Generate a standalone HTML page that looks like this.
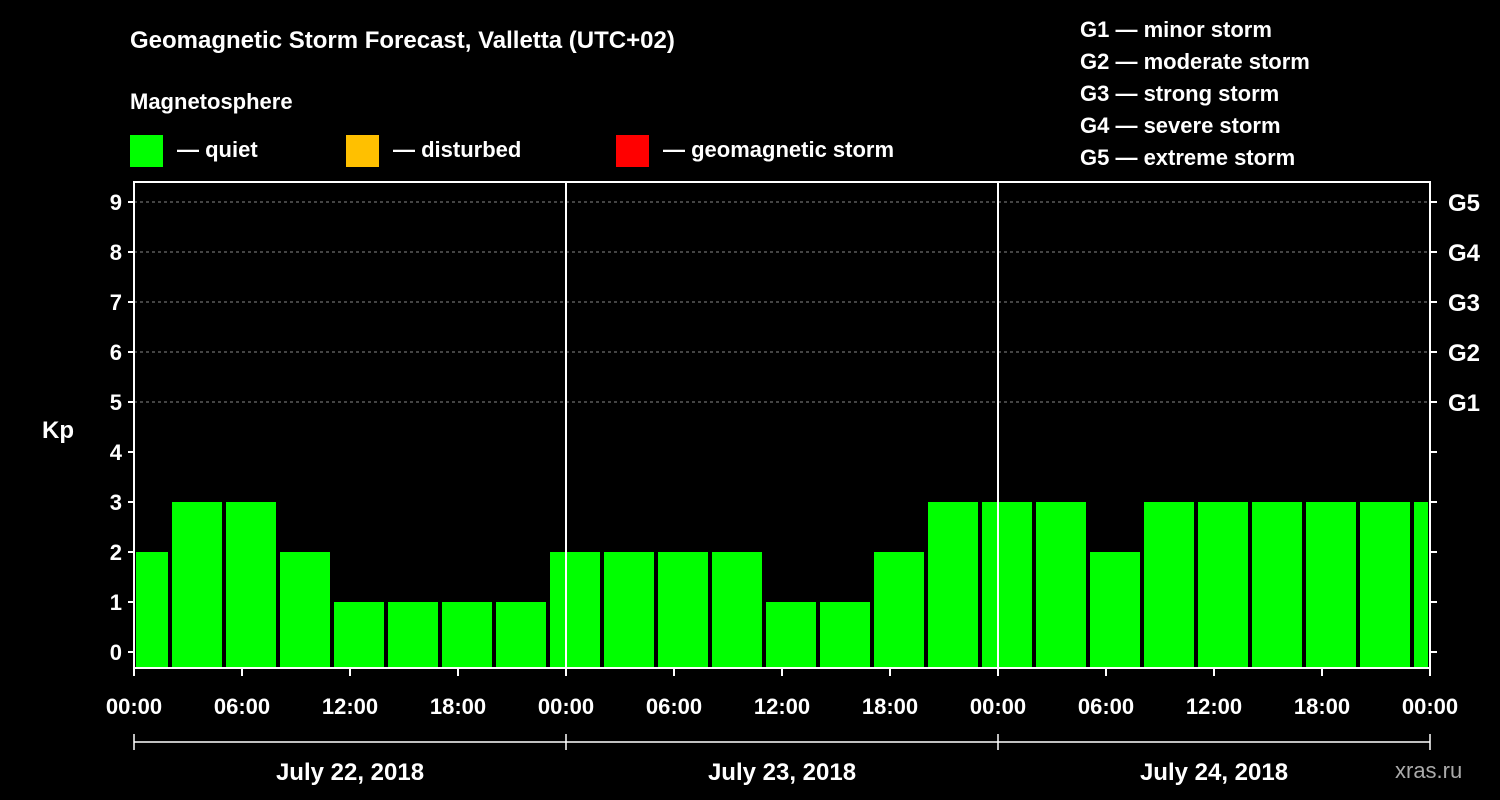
<!DOCTYPE html>
<html><head><meta charset="utf-8"><style>
body{margin:0;background:#000;width:1500px;height:800px;overflow:hidden}
svg{display:block}
text{font-family:"Liberation Sans",sans-serif;font-weight:bold;fill:#fff}
</style></head><body>
<svg id="c" width="1500" height="800">
<text x="130" y="48" font-size="24">Geomagnetic Storm Forecast, Valletta (UTC+02)</text>
<text x="130" y="109" font-size="22">Magnetosphere</text>
<g><rect x="130" y="135" width="33" height="32" fill="#00ff00"/><text x="177" y="157" font-size="22">— quiet</text></g>
<g><rect x="346" y="135" width="33" height="32" fill="#ffc000"/><text x="393" y="157" font-size="22">— disturbed</text></g>
<g><rect x="616" y="135" width="33" height="32" fill="#ff0000"/><text x="663" y="157" font-size="22">— geomagnetic storm</text></g>
<g font-size="22">
<text x="1080" y="37">G1 — minor storm</text><text x="1080" y="69">G2 — moderate storm</text><text x="1080" y="101">G3 — strong storm</text><text x="1080" y="133">G4 — severe storm</text><text x="1080" y="165">G5 — extreme storm</text></g>
<text x="42" y="438" font-size="24">Kp</text>
<text x="1395" y="778" font-size="22" fill="#aaa" style="fill:#aaa;font-weight:normal">xras.ru</text>
<g id="plot"></g>
</svg>
<script>
const values=[2,3,3,2,1,1,1,1,2,2,2,2,1,1,2,3,3,3,2,3,3,3,3,3,3];
const yTicks=[0,1,2,3,4,5,6,7,8,9];
const gLabels=["G1","G2","G3","G4","G5"];
const gLevels=[5,6,7,8,9];
const xLabels=["00:00","06:00","12:00","18:00","00:00","06:00","12:00","18:00","00:00","06:00","12:00","18:00","00:00"];
const days=["July 22, 2018","July 23, 2018","July 24, 2018"];
const NS="http://www.w3.org/2000/svg";
const L=134,R=1430,T=182,B=668;
const hours=72;
const x=h=>L+(R-L)*h/hours;
const y=v=>652-50*v;
const g=document.getElementById('plot');
function mk(t,a,p){const e=document.createElementNS(NS,t);for(const k in a)e.setAttribute(k,a[k]);(p||g).appendChild(e);return e;}
// grid
gLevels.forEach(v=>{const e=mk('line',{x1:L,x2:R,y1:y(v),y2:y(v),stroke:'#888','stroke-dasharray':'3,3','stroke-width':1});

});
// bars
values.forEach((v,i)=>{const h0=-1+3*i,h1=h0+3;
let x0=Math.max(x(h0),L)+2,x1=Math.min(x(h1),R)-2;
const c=v>=5?'#ff0000':v>=4?'#ffc000':'#00ff00';
const r=mk('rect',{x:x0,y:y(v),width:x1-x0,height:B-y(v),fill:c});

});
// frame
const f=mk('rect',{x:L,y:T,width:R-L,height:B-T,fill:'none',stroke:'#fff','stroke-width':2});


[24,48].forEach(h=>{const e=mk('line',{x1:x(h),x2:x(h),y1:T,y2:B,stroke:'#fff','stroke-width':2});

});
// y ticks
yTicks.forEach(v=>{mk('line',{x1:L-6,x2:L,y1:y(v),y2:y(v),stroke:'#fff','stroke-width':2});
mk('line',{x1:R,x2:R+7,y1:y(v),y2:y(v),stroke:'#fff','stroke-width':2});
const t=mk('text',{x:L-12,y:y(v)+8,'font-size':22,'text-anchor':'end'});t.textContent=v;

});
gLabels.forEach((s,i)=>{const t=mk('text',{x:R+18,y:y(gLevels[i])+9,'font-size':24});t.textContent=s;

});
// x ticks
xLabels.forEach((s,i)=>{const xx=x(i*6);mk('line',{x1:xx,x2:xx,y1:B,y2:B+8,stroke:'#fff','stroke-width':2});
const t=mk('text',{x:xx,y:714,'font-size':22,'text-anchor':'middle'});t.textContent=s;

});
// day brackets
mk('line',{x1:L,x2:R,y1:742,y2:742,stroke:'#fff','stroke-width':1.5});
[0,24,48,72].forEach(h=>mk('line',{x1:x(h),x2:x(h),y1:734,y2:750,stroke:'#fff','stroke-width':1.5}));
days.forEach((s,i)=>{const t=mk('text',{x:x(i*24+12),y:780,'font-size':24,'text-anchor':'middle'});t.textContent=s;

});
</script>
</body></html>
